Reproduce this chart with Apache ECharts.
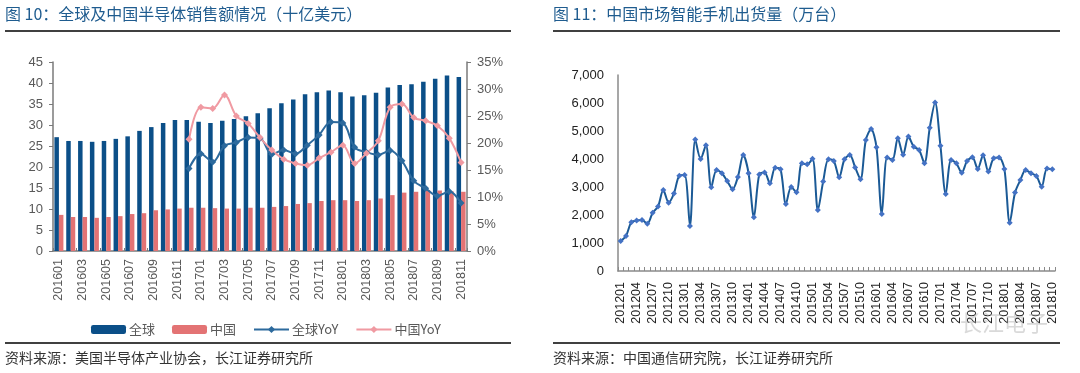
<!DOCTYPE html>
<html>
<head>
<meta charset="utf-8">
<script src="https://cdn.jsdelivr.net/npm/echarts@6/dist/echarts.min.js"></script>
<style>
html,body{margin:0;padding:0;background:#fff;}
#c{width:1080px;height:373px;}
</style>
</head>
<body>
<div id="c"></div>
<script>
// ---------- Left chart data (十亿美元) ----------
const months1 = ['201601','201602','201603','201604','201605','201606','201607','201608','201609','201610','201611','201612',
  '201701','201702','201703','201704','201705','201706','201707','201708','201709','201710','201711','201712',
  '201801','201802','201803','201804','201805','201806','201807','201808','201809','201810','201811'];
const globalSales = [27.1,26.2,26.2,26.0,26.2,26.7,27.3,28.6,29.5,30.5,31.2,31.2,
  30.8,30.5,31.0,31.4,32.1,32.8,34.0,35.2,36.1,37.3,37.8,38.2,
  37.8,36.8,37.1,37.7,38.9,39.5,39.7,40.3,41.0,41.8,41.4];
const chinaSales = [8.6,8.1,8.1,7.9,8.1,8.3,8.8,9.0,9.7,9.9,10.1,10.3,
  10.3,10.2,10.1,10.1,10.3,10.3,10.5,10.7,11.2,11.4,11.9,12.1,
  12.1,11.9,12.1,12.5,13.3,13.9,14.1,14.5,14.4,14.2,14.1];
// YoY (%) from 201612 to 201811
const yoyStart = '201612';
const globalYoY = [15.3,18.0,16.5,19.5,20.1,21.0,20.9,17.9,18.7,18.0,19.6,21.5,23.9,
  23.7,19.2,18.3,17.8,18.6,16.7,13.0,11.6,10.2,11.0,8.9];
const chinaYoY = [20.7,26.6,26.4,28.9,25.0,23.6,21.0,18.7,17.0,16.2,15.9,17.2,18.3,
  19.6,16.2,18.1,20.4,26.6,27.2,24.7,24.1,23.2,20.9,16.4];

// ---------- Right chart data (万台) ----------
const months2 = [];
for (let y = 2012; y <= 2018; y++) {
  for (let m = 1; m <= 12; m++) {
    if (y === 2018 && m > 10) break;
    months2.push(String(y) + (m < 10 ? '0' + m : String(m)));
  }
}
const phoneShipments = [1070,1250,1740,1800,1820,1690,2080,2300,2890,2440,2770,3400,
  3430,1610,4700,4000,4490,2990,3610,3490,3210,2920,3360,4140,
  3490,1920,3450,3520,3130,3690,3630,2390,3000,2810,3845,3810,
  4010,2175,3200,3990,3930,3345,3990,4140,3700,3275,4680,5070,
  4420,2040,4050,3965,4740,4155,4800,4440,4320,3845,5120,6020,
  4475,2750,3965,3845,3510,3930,4060,3645,4130,3550,4025,4050,
  3645,1725,2800,3250,3605,3490,3395,3010,3665,3630];

const idx0 = months1.indexOf(yoyStart);
const pad = n => Array(n).fill('-');
const gYoY = pad(idx0).concat(globalYoY);
const cYoY = pad(idx0).concat(chinaYoY);

const FONT = 'Arial, "Liberation Sans", "Noto Sans CJK SC", sans-serif';
const CJK = '"Noto Sans CJK SC", "Liberation Sans", sans-serif';
const axisGray = '#7a7a7a';

const chart = echarts.init(document.getElementById('c'), null, {renderer: 'canvas'});
chart.setOption({
  animation: false,
  textStyle: {fontFamily: FONT},
  grid: [
    {left: 53, top: 62, width: 414, height: 189, containLabel: false},
    {left: 618, top: 75, width: 437, height: 196, containLabel: false}
  ],
  legend: {
    data: ['全球', '中国', '全球YoY', '中国YoY'],
    left: 86, top: 318,
    itemWidth: 35, itemHeight: 9, itemGap: 17,
    textStyle: {fontSize: 13, color: '#595959', fontFamily: CJK, padding: [0,0,0,-2]}
  },
  xAxis: [
    {
      type: 'category', gridIndex: 0, data: months1,
      axisLine: {lineStyle: {color: axisGray, width: 1.5}},
      axisTick: {show: true, inside: true, length: 3, alignWithLabel: false, lineStyle: {color: axisGray}},
      axisLabel: {rotate: 90, interval: 1, fontSize: 12.5, color: '#595959', margin: 8}
    },
    {
      type: 'category', gridIndex: 1, data: months2,
      axisLine: {lineStyle: {color: '#8a8a8a', width: 1.5}},
      axisTick: {show: true, inside: true, length: 4, interval: 0, lineStyle: {color: '#8a8a8a'}},
      axisLabel: {rotate: 90, interval: 2, fontSize: 12.5, color: '#222', margin: 11}
    }
  ],
  yAxis: [
    {
      type: 'value', gridIndex: 0, min: 0, max: 45, interval: 5,
      axisLine: {show: true, lineStyle: {color: axisGray, width: 1.5}},
      axisTick: {show: true, length: 4, lineStyle: {color: axisGray}},
      splitLine: {show: false},
      axisLabel: {fontSize: 13, color: '#595959', margin: 10}
    },
    {
      type: 'value', gridIndex: 0, position: 'right', min: 0, max: 35, interval: 5,
      axisLine: {show: true, lineStyle: {color: axisGray, width: 1.5}},
      axisTick: {show: true, length: 4, lineStyle: {color: axisGray}},
      splitLine: {show: false},
      axisLabel: {fontSize: 13, color: '#595959', margin: 10, formatter: '{value}%'}
    },
    {
      type: 'value', gridIndex: 1, min: 0, max: 7000, interval: 1000,
      axisLine: {show: true, lineStyle: {color: '#8a8a8a', width: 1.5}},
      axisTick: {show: false},
      splitLine: {show: false},
      axisLabel: {fontSize: 13, color: '#222', margin: 14,
        formatter: v => v.toLocaleString('en-US')}
    }
  ],
  series: [
    {
      name: '全球', type: 'bar', xAxisIndex: 0, yAxisIndex: 0, data: globalSales,
      barWidth: 4.5, barGap: '0%', itemStyle: {color: '#0B4F88'}
    },
    {
      name: '中国', type: 'bar', xAxisIndex: 0, yAxisIndex: 0, data: chinaSales,
      barWidth: 4.5, barGap: '0%', itemStyle: {color: '#E37374'}
    },
    {
      name: '全球YoY', type: 'line', xAxisIndex: 0, yAxisIndex: 1, data: gYoY,
      smooth: 0.35, symbol: 'diamond', symbolSize: 7, showAllSymbol: true,
      lineStyle: {color: '#2D6A9D', width: 2}, itemStyle: {color: '#2D6A9D'}
    },
    {
      name: '中国YoY', type: 'line', xAxisIndex: 0, yAxisIndex: 1, data: cYoY,
      smooth: 0.35, symbol: 'diamond', symbolSize: 7, showAllSymbol: true,
      lineStyle: {color: '#F09AA2', width: 2}, itemStyle: {color: '#F09AA2'}
    },
    {
      name: '出货量', type: 'line', xAxisIndex: 1, yAxisIndex: 2, data: phoneShipments,
      smooth: 0.3, symbol: 'diamond', symbolSize: 6, showAllSymbol: true,
      lineStyle: {color: '#1B5A96', width: 2}, itemStyle: {color: '#4472C4'}
    }
  ],
  graphic: [
    {type: 'text', left: 5, top: 6, style: {text: '图 10：全球及中国半导体销售额情况（十亿美元）', font: '16px ' + CJK, fill: '#1F5C8F'}},
    {type: 'line', shape: {x1: 5, y1: 31, x2: 511, y2: 31}, style: {stroke: '#000', lineWidth: 1.5}},
    {type: 'line', shape: {x1: 5, y1: 343, x2: 511, y2: 343}, style: {stroke: '#000', lineWidth: 1.5}},
    {type: 'text', left: 5, top: 351, style: {text: '资料来源：美国半导体产业协会，长江证券研究所', font: '14px ' + CJK, fill: '#333'}},

    {type: 'text', left: 553, top: 6, style: {text: '图 11：中国市场智能手机出货量（万台）', font: '16px ' + CJK, fill: '#1F5C8F'}},
    {type: 'line', shape: {x1: 553, y1: 31, x2: 1060, y2: 31}, style: {stroke: '#000', lineWidth: 1.5}},
    {type: 'line', shape: {x1: 553, y1: 343, x2: 1060, y2: 343}, style: {stroke: '#000', lineWidth: 1.5}},
    {type: 'text', left: 553, top: 351, style: {text: '资料来源：中国通信研究院，长江证券研究所', font: '14px ' + CJK, fill: '#333'}},
    {type: 'text', left: 960, top: 312, z: 100, style: {text: '长江电子', font: '22px ' + CJK, fill: 'rgba(170,170,170,0.45)'}}
  ]
});
</script>
</body>
</html>
